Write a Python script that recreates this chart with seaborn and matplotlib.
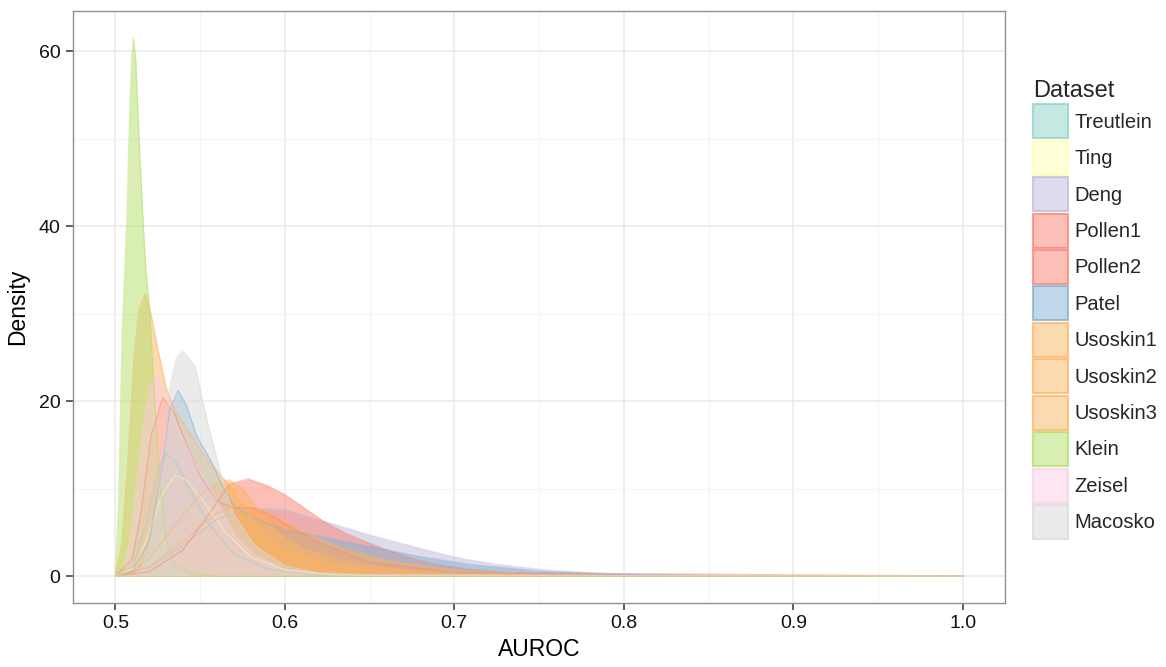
import numpy as np
import pandas as pd
import matplotlib
matplotlib.use("Agg")
import matplotlib.pyplot as plt
from matplotlib.patches import Patch
import seaborn as sns

# ---------------- data ----------------
datasets = ["Treutlein", "Ting", "Deng", "Pollen1", "Pollen2", "Patel",
            "Usoskin1", "Usoskin2", "Usoskin3", "Klein", "Zeisel", "Macosko"]

treutlein_x = [0.500, 0.510, 0.518, 0.525, 0.530, 0.536, 0.545, 0.555, 0.570, 0.590, 0.620, 1.000]
treutlein_y = [0.0, 1.0, 6.0, 12.0, 14.0, 13.0, 9.5, 6.0, 2.5, 0.8, 0.1, 0.0]

ting_x = [0.500, 0.512, 0.520, 0.528, 0.535, 0.542, 0.552, 0.565, 0.580, 0.600, 0.630, 1.000]
ting_y = [0.0, 1.0, 5.0, 9.5, 11.5, 11.0, 8.5, 5.0, 2.2, 0.7, 0.1, 0.0]

deng_x = [0.500, 0.520, 0.540, 0.560, 0.580, 0.600, 0.624, 0.648, 0.667, 0.677, 0.697,
          0.707, 0.726, 0.756, 0.785, 0.820, 0.860, 0.900, 1.000]
deng_y = [0.0, 1.0, 3.5, 6.5, 7.8, 7.6, 6.2, 4.8, 3.8, 3.3, 2.3,
          1.9, 1.3, 0.65, 0.3, 0.12, 0.04, 0.01, 0.0]

pollen1_x = [0.500, 0.510, 0.515, 0.521, 0.528, 0.535, 0.542, 0.550, 0.560, 0.570,
             0.580, 0.590, 0.600, 0.620, 0.650, 0.700, 1.000]
pollen1_y = [0.0, 2.0, 7.0, 16.0, 20.4, 18.5, 15.0, 11.5, 8.5, 7.8,
             7.8, 7.2, 6.0, 3.8, 1.6, 0.4, 0.0]

pollen2_x = [0.500, 0.520, 0.540, 0.555, 0.567, 0.5785, 0.590, 0.600, 0.612, 0.624,
             0.636, 0.648, 0.660, 0.677, 0.690, 0.707, 0.730, 0.760, 0.800, 0.900, 1.000]
pollen2_y = [0.0, 0.5, 3.0, 7.0, 10.5, 11.1, 10.3, 9.3, 7.7, 6.1,
             4.9, 3.9, 3.0, 1.9, 1.3, 0.8, 0.4, 0.15, 0.05, 0.0, 0.0]

patel_x = [0.500, 0.510, 0.520, 0.528, 0.532, 0.537, 0.542, 0.548, 0.557, 0.5625,
           0.570, 0.580, 0.600, 0.624, 0.650, 0.680, 0.710, 0.750, 0.800, 0.850, 1.000]
patel_y = [0.0, 0.5, 4.0, 13.0, 19.0, 21.2, 19.5, 16.0, 13.0, 10.5,
           8.0, 6.8, 5.2, 4.4, 3.4, 2.2, 1.3, 0.55, 0.2, 0.06, 0.0]

usoskin1_x = [0.500, 0.504, 0.508, 0.511, 0.514, 0.5175, 0.521, 0.525, 0.530, 0.535,
              0.540, 0.545, 0.550, 0.556, 0.562, 0.567, 0.575, 0.585, 0.600, 0.620,
              0.650, 0.700, 0.800, 1.000]
usoskin1_y = [0.0, 4.0, 15.0, 25.0, 30.5, 32.3, 30.0, 26.0, 21.5, 19.0,
              17.5, 16.0, 14.5, 13.0, 11.5, 10.5, 8.0, 5.5, 3.2, 1.6,
              0.6, 0.15, 0.0, 0.0]

usoskin2_x = [0.500, 0.510, 0.520, 0.530, 0.540, 0.550, 0.560, 0.567, 0.575, 0.585,
              0.598, 0.610, 0.624, 0.645, 0.667, 0.700, 0.750, 0.850, 1.000]
usoskin2_y = [0.0, 0.5, 2.0, 4.5, 7.0, 9.2, 10.6, 11.0, 10.0, 7.5,
              4.6, 3.2, 2.3, 1.3, 0.8, 0.35, 0.1, 0.0, 0.0]

usoskin3_x = [0.500, 0.520, 0.540, 0.560, 0.575, 0.590, 0.610, 0.630, 0.660, 0.700,
              0.750, 0.800, 1.000]
usoskin3_y = [0.0, 1.0, 4.0, 7.2, 8.2, 7.3, 5.2, 3.4, 1.8, 0.7,
              0.2, 0.05, 0.0]

klein_x = [0.500, 0.502, 0.504, 0.506, 0.507, 0.508, 0.5095, 0.5106, 0.512, 0.514,
           0.5165, 0.518, 0.520, 0.523, 0.526, 0.530, 0.535, 0.545, 0.560, 1.000]
klein_y = [0.0, 9.0, 28.0, 37.0, 42.0, 50.0, 59.0, 61.5, 59.0, 50.0,
           40.0, 35.0, 31.0, 21.0, 11.0, 4.0, 1.2, 0.2, 0.0, 0.0]

zeisel_x = [0.500, 0.505, 0.5095, 0.5155, 0.520, 0.5234, 0.527, 0.531, 0.537, 0.544,
            0.550, 0.557, 0.564, 0.571, 0.583, 0.600, 0.620, 0.650, 1.000]
zeisel_y = [0.0, 0.5, 5.3, 16.0, 21.5, 23.1, 22.0, 20.0, 17.0, 14.0,
            11.8, 9.6, 7.0, 4.6, 2.3, 0.8, 0.3, 0.1, 0.0]

macosko_x = [0.500, 0.510, 0.515, 0.520, 0.525, 0.5295, 0.532, 0.536, 0.5396, 0.543,
             0.547, 0.551, 0.555, 0.5626, 0.570, 0.5825, 0.600, 0.620, 0.650, 1.000]
macosko_y = [0.0, 0.0, 0.5, 3.0, 9.0, 16.0, 21.7, 25.0, 25.7, 25.0,
             24.0, 20.5, 17.1, 11.4, 7.0, 3.5, 1.2, 0.4, 0.1, 0.0]

palette_hex = ["#8DD3C7", "#FFFFB3", "#BEBADA", "#FB8072", "#FB8072", "#80B1D3",
               "#FDB462", "#FDB462", "#FDB462", "#B3DE69", "#FCCDE5", "#D9D9D9"]

x_ticks = [0.5, 0.6, 0.7, 0.8, 0.9, 1.0]
x_tick_labels = ["0.5", "0.6", "0.7", "0.8", "0.9", "1.0"]
y_ticks = [0, 20, 40, 60]

series_x = [treutlein_x, ting_x, deng_x, pollen1_x, pollen2_x, patel_x,
            usoskin1_x, usoskin2_x, usoskin3_x, klein_x, zeisel_x, macosko_x]
series_y = [treutlein_y, ting_y, deng_y, pollen1_y, pollen2_y, patel_y,
            usoskin1_y, usoskin2_y, usoskin3_y, klein_y, zeisel_y, macosko_y]

frames = []
for name, xs, ys in zip(datasets, series_x, series_y):
    frames.append(pd.DataFrame({"AUROC": xs, "Density": ys, "Dataset": name}))
df = pd.concat(frames, ignore_index=True)
palette = dict(zip(datasets, palette_hex))

# ---------------- plotting ----------------
sns.set_theme(style="white")
plt.rcParams["font.family"] = ["Liberation Sans", "DejaVu Sans"]

fig = plt.figure(figsize=(11.66, 6.67), dpi=100)
ax = fig.add_axes([0.0626, 0.096, 0.7994, 0.8875])

ALPHA = 0.5
for name in datasets:
    sub = df[df["Dataset"] == name]
    ax.fill_between(sub["AUROC"], 0, sub["Density"], color=palette[name],
                    alpha=ALPHA, linewidth=0, zorder=2)
sns.lineplot(data=df, x="AUROC", y="Density", hue="Dataset", hue_order=datasets,
             palette=palette, sort=False, estimator=None, units="Dataset",
             alpha=0.45, linewidth=1.0, legend=False, ax=ax, zorder=3)

ax.set_xlim(0.475, 1.025)
ax.set_ylim(-3.075, 64.575)
ax.set_xticks(x_ticks)
ax.set_xticklabels(x_tick_labels)
ax.set_yticks(y_ticks)
ax.set_xticks([0.55, 0.65, 0.75, 0.85, 0.95], minor=True)
ax.set_yticks([10, 30, 50], minor=True)
ax.grid(which="major", color="#EBEBEB", linewidth=1.1, zorder=0)
ax.grid(which="minor", color="#F4F4F4", linewidth=0.8, zorder=0)
ax.set_axisbelow(True)
for s in ax.spines.values():
    s.set_color("#8F8F8F")
    s.set_linewidth(1.0)
ax.tick_params(axis="both", which="major", direction="out", length=5, width=1.1,
               color="#333333", labelsize=14, labelcolor="#111111", pad=4,
               bottom=True, left=True)
ax.tick_params(axis="both", which="minor", length=0)
ax.set_xlabel("AUROC", fontsize=16.5, labelpad=4, color="black")
ax.set_ylabel("Density", fontsize=16.5, labelpad=7, color="black")

handles = [Patch(facecolor=matplotlib.colors.to_rgba(palette[n], ALPHA),
                 edgecolor=matplotlib.colors.to_rgba(palette[n], 0.75),
                 linewidth=1.5) for n in datasets]
leg = fig.legend(handles, datasets, title="Dataset", loc="upper left",
                 bbox_to_anchor=(1033 / 1166, 1 - 80 / 667), frameon=False,
                 fontsize=14.5, title_fontsize=17, handlelength=1.75, handleheight=2.22,
                 labelspacing=0.12, handletextpad=0.3, borderpad=0, borderaxespad=0,
                 alignment="left")

fig.savefig("out.png", dpi=100)
